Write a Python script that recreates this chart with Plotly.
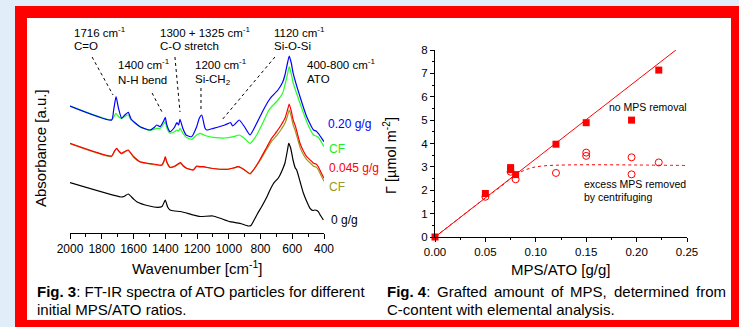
import plotly.graph_objects as go

W, H = 739, 327
FONT = "Arial, Liberation Sans, sans-serif"

# ---------------- Fig. 3 : FT-IR spectra (wavenumber cm^-1, absorbance a.u.) ----------------
wn_black = [2000, 1680, 1660, 1633, 1600, 1580, 1500, 1450, 1420, 1400, 1385, 1370, 1340, 1307, 1280,
            1223, 1181, 1100, 1050, 992, 929, 877, 860, 846, 820, 793, 760, 740, 720, 709, 690, 677,
            660, 646, 630, 622, 610, 595, 581, 572, 550, 530, 510, 488, 470, 457, 445, 436, 420, 404]
ab_black = [0.503, 0.36, 0.365, 0.39, 0.34, 0.313, 0.27, 0.257, 0.265, 0.33, 0.26, 0.23, 0.22, 0.215, 0.205,
            0.18, 0.165, 0.17, 0.145, 0.113, 0.097, 0.07, 0.075, 0.113, 0.19, 0.263, 0.36, 0.43, 0.49, 0.513,
            0.545, 0.58, 0.64, 0.70, 0.83, 0.897, 0.85, 0.73, 0.65, 0.63, 0.51, 0.40, 0.32, 0.247, 0.225,
            0.23, 0.225, 0.213, 0.17, 0.13]

wn_mid = [2000, 1738, 1720, 1706, 1690, 1675, 1655, 1633, 1600, 1559, 1475, 1422, 1408, 1400, 1390, 1370,
          1339, 1320, 1303, 1285, 1265, 1223, 1202, 1181, 1160, 1100, 1013, 970, 940, 900, 866, 840, 803,
          760, 730, 698, 670, 646, 630, 619, 605, 594, 579, 551, 530, 509, 480, 466, 450, 436, 420, 400]
ab_red = [0.897, 0.77, 0.82, 0.847, 0.815, 0.797, 0.815, 0.83, 0.765, 0.713, 0.69, 0.68, 0.72, 0.763, 0.71,
          0.657, 0.67, 0.69, 0.703, 0.67, 0.647, 0.63, 0.67, 0.663, 0.663, 0.645, 0.637, 0.65, 0.663, 0.63,
          0.59, 0.64, 0.735, 0.86, 0.947, 1.013, 1.08, 1.147, 1.23, 1.29, 1.21, 1.13, 1.063, 0.897, 0.82,
          0.763, 0.72, 0.697, 0.69, 0.663, 0.61, 0.547]
ab_olive = [0.895, 0.765, 0.815, 0.84, 0.81, 0.79, 0.81, 0.825, 0.76, 0.71, 0.685, 0.675, 0.715, 0.755, 0.705,
            0.655, 0.665, 0.685, 0.695, 0.665, 0.645, 0.635, 0.665, 0.66, 0.66, 0.645, 0.637, 0.65, 0.663,
            0.63, 0.595, 0.64, 0.725, 0.84, 0.917, 0.973, 1.035, 1.097, 1.17, 1.23, 1.155, 1.08, 1.013,
            0.857, 0.785, 0.733, 0.69, 0.667, 0.66, 0.633, 0.58, 0.517]

wn_blue = [2000, 1738, 1725, 1710, 1695, 1675, 1655, 1633, 1615, 1559, 1496, 1470, 1454, 1433, 1410, 1400,
           1390, 1370, 1345, 1326, 1316, 1307, 1290, 1269, 1234, 1202, 1185, 1170, 1150, 1139, 1097, 1024,
           988, 976, 960, 934, 900, 866, 824, 782, 750, 730, 690, 660, 646, 630, 619, 606, 594, 551, 509,
           466, 450, 436, 400]
ab_blue = [1.27, 1.13, 1.23, 1.363, 1.25, 1.147, 1.18, 1.207, 1.14, 1.063, 1.03, 1.055, 1.08, 1.063, 1.12,
           1.157, 1.08, 1.013, 1.05, 1.103, 1.08, 1.137, 1.05, 0.98, 0.963, 1.063, 1.15, 1.18, 1.05, 1.03,
           1.047, 1.08, 1.103, 1.07, 1.09, 1.13, 1.06, 0.98, 1.097, 1.23, 1.32, 1.363, 1.43, 1.51, 1.58,
           1.70, 1.77, 1.70, 1.597, 1.363, 1.163, 1.03, 1.02, 0.997, 0.913]

wn_green = [2000, 1738, 1725, 1710, 1695, 1675, 1655, 1633, 1615, 1559, 1496, 1454, 1433, 1410, 1400, 1390,
            1370, 1345, 1326, 1316, 1307, 1290, 1269, 1234, 1202, 1181, 1139, 1097, 1024, 971, 934, 900,
            866, 824, 782, 750, 730, 690, 660, 646, 630, 619, 606, 594, 551, 509, 466, 450, 436, 400]
ab_green = [1.27, 1.13, 1.16, 1.197, 1.165, 1.147, 1.165, 1.18, 1.13, 1.063, 1.025, 1.047, 1.045, 1.09, 1.113,
            1.05, 0.997, 1.01, 1.03, 1.02, 1.047, 1.0, 0.957, 0.937, 0.98, 0.997, 0.97, 0.957, 0.95, 0.963,
            0.98, 0.945, 0.897, 0.98, 1.113, 1.22, 1.263, 1.33, 1.40, 1.48, 1.59, 1.663, 1.59, 1.50, 1.297,
            1.113, 0.98, 0.97, 0.957, 0.863]

spectra = [
    (wn_green, ab_green, "#22FF22"),
    (wn_blue, ab_blue, "#0000FF"),
    (wn_mid, ab_olive, "#999922"),
    (wn_mid, ab_red, "#FF0000"),
    (wn_black, ab_black, "#000000"),
]

# band-label leader lines: (wn0, ab0) -> (wn1, ab1)
band_lines = [
    (1861, 1.76, 1729, 1.38),
    (1483, 1.40, 1414, 1.19),
    (1339, 1.76, 1307, 1.21),
    (1175, 1.45, 1175, 1.23),
    (709, 1.76, 1043, 1.13),
]

# ---------------- Fig. 4 : grafted amount ----------------
sq_x = [0.0, 0.05, 0.075, 0.075, 0.08, 0.12, 0.15, 0.195, 0.222]
sq_y = [0.0, 1.86, 2.97, 2.88, 2.67, 3.97, 4.89, 5.0, 7.14]
ci_x = [0.05, 0.075, 0.08, 0.12, 0.15, 0.15, 0.195, 0.195, 0.222]
ci_y = [1.72, 2.79, 2.47, 2.74, 3.61, 3.47, 3.41, 2.68, 3.19]
fit_x = [0.0, 0.239]
fit_y = [0.0, 8.0]
sat_x = [0.0, 0.05, 0.065, 0.075, 0.085, 0.095, 0.105, 0.12, 0.15, 0.2, 0.248]
sat_y = [0.0, 1.67, 2.15, 2.5, 2.78, 2.95, 3.03, 3.07, 3.09, 3.08, 3.06]


def px(x):
    return x / W


def py(y):
    return 1 - y / H


fig = go.Figure()

for wn, ab, col in spectra:
    fig.add_trace(go.Scatter(x=wn, y=ab, mode="lines", line=dict(color=col, width=1.2, shape="spline", smoothing=0.5),
                             xaxis="x", yaxis="y", showlegend=False, hoverinfo="skip"))

fig.add_trace(go.Scatter(x=sat_x, y=sat_y, mode="lines", line=dict(color="#FF0000", width=1, dash="dot", shape="spline"),
                         xaxis="x2", yaxis="y2", showlegend=False, cliponaxis=False))
fig.add_trace(go.Scatter(x=fit_x, y=fit_y, mode="lines", line=dict(color="#FF0000", width=1),
                         xaxis="x2", yaxis="y2", showlegend=False, cliponaxis=False))
fig.add_trace(go.Scatter(x=ci_x, y=ci_y, mode="markers",
                         marker=dict(symbol="circle-open", size=7, color="#FF0000", line=dict(width=1, color="#FF0000")),
                         xaxis="x2", yaxis="y2", showlegend=False, cliponaxis=False))
fig.add_trace(go.Scatter(x=sq_x, y=sq_y, mode="markers",
                         marker=dict(symbol="square", size=7, color="#FF0000"),
                         xaxis="x2", yaxis="y2", showlegend=False, cliponaxis=False))

shapes = [
    dict(type="rect", xref="paper", yref="paper", x0=px(15), x1=1.0, y0=0.0, y1=py(6),
         fillcolor="#FF0000", line=dict(width=0), layer="below"),
    dict(type="rect", xref="paper", yref="paper", x0=px(27), x1=px(731), y0=py(320), y1=py(18),
         fillcolor="#FFFFFF", line=dict(width=0), layer="below"),
]
for x0, y0, x1, y1 in band_lines:
    shapes.append(dict(type="line", xref="x", yref="y", x0=x0, y0=y0, x1=x1, y1=y1,
                       line=dict(color="black", width=1, dash="dot")))

anns = []


def ann(x, y, text, size, color="black", xanchor="left", yanchor="middle", angle=0):
    anns.append(dict(x=px(x), y=py(y), xref="paper", yref="paper", text=text, showarrow=False,
                     font=dict(family=FONT, size=size, color=color), xanchor=xanchor, yanchor=yanchor,
                     textangle=angle))


band_text = [
    (72, 32, "1716 cm<sup>-1</sup>"), (72, 46, "C=O"),
    (116, 64, "1400 cm<sup>-1</sup>"), (116, 80, "N-H bend"),
    (158, 32, "1300 + 1325 cm<sup>-1</sup>"), (158, 46, "C-O stretch"),
    (193, 64, "1200 cm<sup>-1</sup>"), (193, 80, "Si-CH<sub>2</sub>"),
    (272, 32, "1120 cm<sup>-1</sup>"), (272, 46, "Si-O-Si"),
    (305, 64, "400-800 cm<sup>-1</sup>"), (305, 79, "ATO"),
]
for x, y, t in band_text:
    ann(x, y, t, 11.5)

ann(326, 124, "0.20 g/g", 12, "#0000FF")
ann(327, 149, "CF", 12, "#22EE22")
ann(327, 168, "0.045 g/g", 12, "#FF0000")
ann(327, 187, "CF", 12, "#999922")
ann(329, 220, "0 g/g", 12, "#000000")

ann(40, 148, "Absorbance [a.u.]", 15, xanchor="center", angle=-90)
ann(197, 267, "Wavenumber [cm<sup>-1</sup>]", 15, xanchor="center")

ann(390, 156, "Γ [µmol m<sup>-2</sup>]", 14.5, xanchor="center", angle=-90)
ann(560, 269, "MPS/ATO [g/g]", 15, xanchor="center")
ann(607, 107, "no MPS removal", 10.5)
ann(582, 184, "excess MPS removed", 10.5)
ann(582, 197, "by centrifuging", 10.5)

ann(35, 291, "<b>Fig. 3</b>: FT-IR spectra of ATO particles for different", 15)
ann(35, 309, "initial MPS/ATO ratios.", 15)
# justified first line of the Fig. 4 caption
for x, t in [(385, "<b>Fig. 4</b>:"), (435, "Grafted"), (492, "amount"), (549, "of"), (568, "MPS,"),
             (612, "determined"), (694, "from")]:
    ann(x, 291, t, 15)
ann(385, 309, "C-content with elemental analysis.", 15)

axis_common = dict(showgrid=False, zeroline=False, showline=True, linecolor="black", linewidth=1,
                   ticks="outside", tickcolor="black", tickwidth=1, automargin=False)

fig.update_layout(
    width=W, height=H, autosize=False,
    margin=dict(l=0, r=0, t=0, b=0, pad=0, autoexpand=False),
    paper_bgcolor="#E1EEFA", plot_bgcolor="rgba(0,0,0,0)",
    font=dict(family=FONT, color="black"),
    shapes=shapes, annotations=anns, showlegend=False,
    xaxis=dict(domain=[px(70), px(324)], range=[2000, 400], anchor="y", tickmode="linear", tick0=400, dtick=200,
               ticklen=5, tickfont=dict(size=12, family=FONT),
               minor=dict(ticks="outside", ticklen=3, dtick=100, tick0=0, tickcolor="black", tickwidth=1),
               **axis_common),
    yaxis=dict(domain=[py(233), py(23)], range=[0, 2.1], anchor="x", showgrid=False, zeroline=False,
               showline=False, showticklabels=False, ticks="", automargin=False),
    xaxis2=dict(domain=[px(435), px(687)], range=[0, 0.25], anchor="y2", tickmode="linear", tick0=0, dtick=0.05,
                tickformat=".2f", ticklen=4, tickfont=dict(size=11.5, family=FONT),
                minor=dict(ticks="outside", ticklen=2, dtick=0.025, tickcolor="black", tickwidth=1),
                **axis_common),
    yaxis2=dict(domain=[py(237), py(50)], range=[0, 8], anchor="x2", tickmode="linear", tick0=0, dtick=1,
                ticklen=4, tickfont=dict(size=11.5, family=FONT),
                minor=dict(ticks="outside", ticklen=2, dtick=0.5, tickcolor="black", tickwidth=1),
                **axis_common),
)

fig.write_html("out.html", config={"displayModeBar": False, "staticPlot": True},
               post_script="document.body.style.margin='0';document.body.style.overflow='hidden';"
                           "document.body.style.background='#E1EEFA';")
